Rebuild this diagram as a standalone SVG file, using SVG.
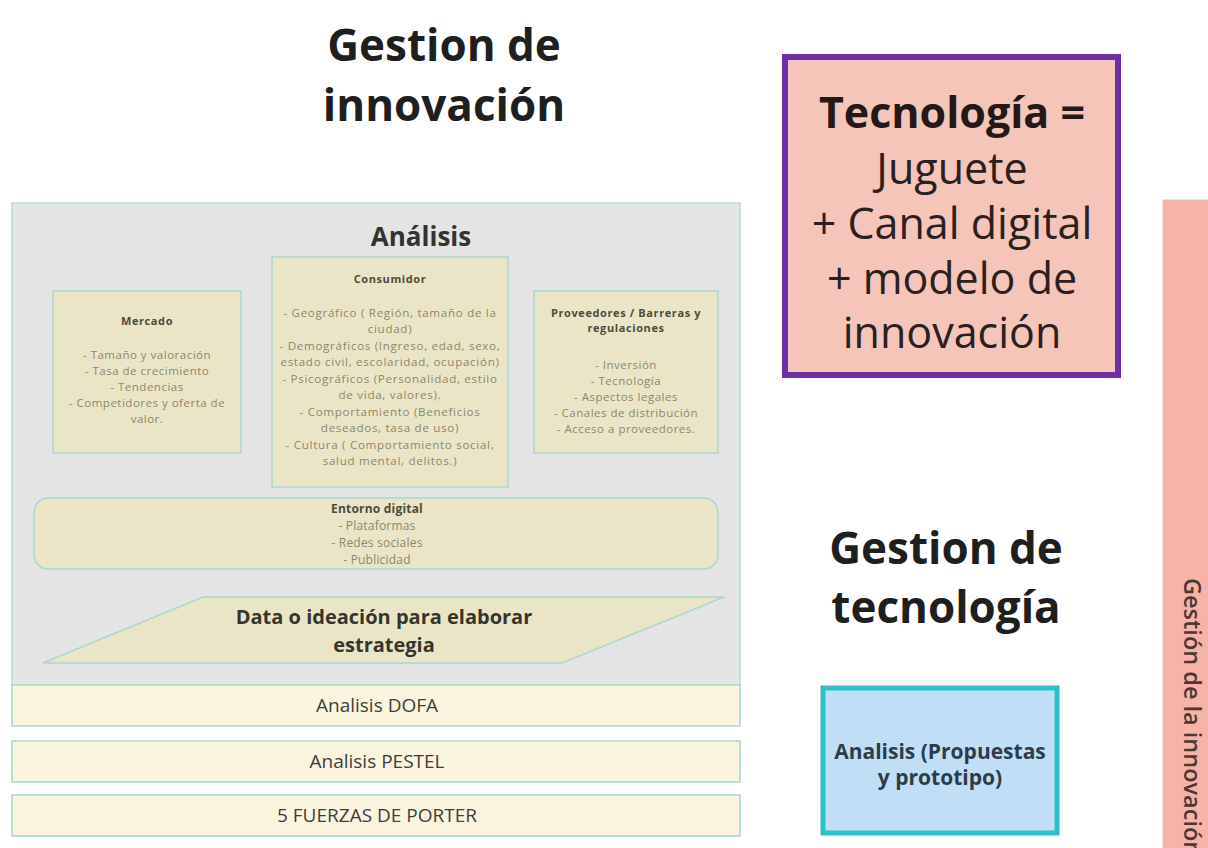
<svg xmlns="http://www.w3.org/2000/svg" width="1208" height="848" viewBox="0 0 1208 848">
<style>
.title{font-family:"Open Sans","Noto Sans",sans-serif;font-weight:bold;font-size:44px;fill:#1f1f1f;text-anchor:middle}
.big{font-family:"Open Sans","Noto Sans",sans-serif;font-size:43px;fill:#2a2020;text-anchor:middle}
.box{fill:#ebe5c8;stroke:#a9d8cf;stroke-width:1.5}
.hd{font-family:"Open Sans","Noto Sans",sans-serif;font-weight:bold;font-size:11px;letter-spacing:0.6px;fill:#4d4b3c;text-anchor:middle}
.sm{font-family:"Open Sans","Noto Sans",sans-serif;font-size:11.5px;letter-spacing:0.5px;fill:#8c876a;text-anchor:middle}
.cs{font-size:11.6px;letter-spacing:0.7px}
.ed{font-size:12px;letter-spacing:0.2px}
.row{fill:#fbf5df;stroke:#a6d8cc;stroke-width:1.5}
.rt{font-family:"Open Sans","Noto Sans",sans-serif;font-size:19px;fill:#3d3d3d;text-anchor:middle}
.dt{font-family:"Open Sans","Noto Sans",sans-serif;font-weight:bold;font-size:20px;fill:#35352c;text-anchor:middle}
.ap{font-family:"Open Sans","Noto Sans",sans-serif;font-weight:bold;font-size:21px;fill:#2e3b48;text-anchor:middle}
</style>
<rect width="1208" height="848" fill="#ffffff"/>

<g id="title-innovacion">
<text class="title" x="444" y="61">Gestion de</text>
<text class="title" x="444" y="121">innovación</text>
</g>

<g id="analisis-container">
<rect x="12" y="203" width="728" height="482" fill="#e4e4e4" stroke="#b5dcd8" stroke-width="1.5"/>
<text x="421" y="246" font-family="'Open Sans','Noto Sans',sans-serif" font-weight="bold" font-size="26" fill="#333333" text-anchor="middle">Análisis</text>
</g>

<g id="mercado">
<rect class="box" x="53" y="291" width="188" height="162"/>
<text class="hd" x="147" y="325">Mercado</text>
<text class="sm" x="147" y="359">- Tamaño y valoración</text>
<text class="sm" x="147" y="375">- Tasa de crecimiento</text>
<text class="sm" x="147" y="391">- Tendencias</text>
<text class="sm" x="147" y="407">- Competidores y oferta de</text>
<text class="sm" x="147" y="423">valor.</text>
</g>

<g id="consumidor">
<rect class="box" x="272" y="257" width="236" height="230"/>
<text class="hd" x="390" y="283">Consumidor</text>
<text class="sm cs" x="390" y="317">- Geográfico ( Región, tamaño de la</text>
<text class="sm cs" x="390" y="333">ciudad)</text>
<text class="sm cs" x="390" y="350">- Demográficos (Ingreso, edad, sexo,</text>
<text class="sm cs" x="390" y="366">estado civil, escolaridad, ocupación)</text>
<text class="sm cs" x="390" y="383">- Psicográficos (Personalidad, estilo</text>
<text class="sm cs" x="390" y="399">de vida, valores).</text>
<text class="sm cs" x="390" y="416">- Comportamiento (Beneficios</text>
<text class="sm cs" x="390" y="432">deseados, tasa de uso)</text>
<text class="sm cs" x="390" y="449">- Cultura ( Comportamiento social,</text>
<text class="sm cs" x="390" y="465">salud mental, delitos.)</text>
</g>

<g id="proveedores">
<rect class="box" x="534" y="291" width="184" height="162"/>
<text class="hd" x="626" y="317">Proveedores / Barreras y</text>
<text class="hd" x="626" y="332">regulaciones</text>
<text class="sm" x="626" y="369">- Inversión</text>
<text class="sm" x="626" y="385">- Tecnología</text>
<text class="sm" x="626" y="401">- Aspectos legales</text>
<text class="sm" x="626" y="417">- Canales de distribución</text>
<text class="sm" x="626" y="433">- Acceso a proveedores.</text>
</g>

<g id="entorno-digital">
<rect class="box" x="34" y="498" width="684" height="71" rx="14"/>
<text class="hd ed" x="377" y="513">Entorno digital</text>
<text class="sm ed" x="377" y="530">- Plataformas</text>
<text class="sm ed" x="377" y="547">- Redes sociales</text>
<text class="sm ed" x="377" y="564">- Publicidad</text>
</g>

<g id="data-ideacion">
<polygon points="203,597 724,597 562,663 43,663" fill="#ebe5c8" stroke="#a9d8cf" stroke-width="1.5"/>
<text class="dt" x="384" y="624">Data o ideación para elaborar</text>
<text class="dt" x="384" y="652">estrategia</text>
</g>

<g id="dofa">
<rect class="row" x="12" y="685" width="728" height="41"/>
<text class="rt" x="377" y="712">Analisis DOFA</text>
</g>
<g id="pestel">
<rect class="row" x="12" y="741" width="728" height="41"/>
<text class="rt" x="377" y="768">Analisis PESTEL</text>
</g>
<g id="porter">
<rect class="row" x="12" y="795" width="728" height="41"/>
<text class="rt" x="377" y="822">5 FUERZAS DE PORTER</text>
</g>

<g id="tecnologia">
<rect x="785" y="57" width="333" height="318" fill="#f6c5b9" stroke="#6b30a6" stroke-width="6"/>
<text x="952" y="128" font-family="'Open Sans','Noto Sans',sans-serif" font-weight="bold" font-size="43" fill="#241818" text-anchor="middle">Tecnología =</text>
<text class="big" x="952" y="184">Juguete</text>
<text class="big" x="952" y="239">+ Canal digital</text>
<text class="big" x="952" y="294">+ modelo de</text>
<text class="big" x="952" y="348">innovación</text>
</g>

<g id="title-tecnologia">
<text class="title" x="946" y="564">Gestion de</text>
<text class="title" x="946" y="623">tecnología</text>
</g>

<g id="analisis-propuestas">
<rect x="823" y="688" width="234" height="145" fill="#c0dff6" stroke="#2cc0c8" stroke-width="5"/>
<text class="ap" x="940" y="759">Analisis (Propuestas</text>
<text class="ap" x="940" y="785">y prototipo)</text>
</g>

<g id="gestion-innovacion-bar">
<rect x="1163" y="200" width="50" height="660" fill="#f8b3a6" stroke="#d9c4bf" stroke-width="1"/>
<text transform="translate(1184,578) rotate(90)" font-family="'Open Sans','Noto Sans',sans-serif" font-weight="600" font-size="23.5" fill="#4a3834">Gestión de la innovación</text>
</g>
</svg>
